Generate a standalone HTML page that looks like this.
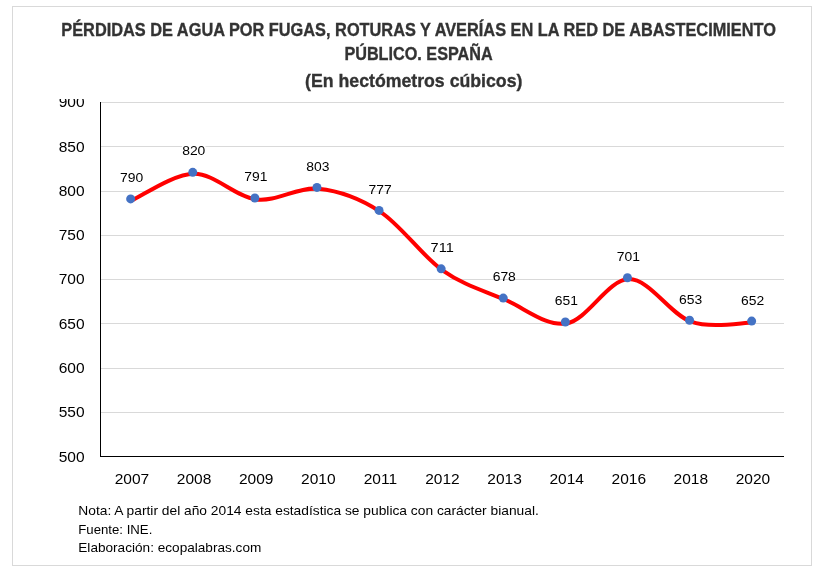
<!DOCTYPE html>
<html><head><meta charset="utf-8"><style>
html,body{margin:0;padding:0;background:#fff;width:820px;height:576px;overflow:hidden}
svg{display:block;font-family:"Liberation Sans",sans-serif;will-change:transform}
</style></head><body>
<svg width="820" height="576" viewBox="0 0 820 576">
<defs><clipPath id="cl"><rect x="0" y="99" width="820" height="477"/></clipPath></defs>
<rect x="12.5" y="6.5" width="799" height="559" fill="#fff" stroke="#d9d9d9" stroke-width="1"/>
<g stroke="#d9d9d9" stroke-width="1"><line x1="101" y1="102.5" x2="784" y2="102.5"/><line x1="101" y1="146.5" x2="784" y2="146.5"/><line x1="101" y1="191.5" x2="784" y2="191.5"/><line x1="101" y1="235.5" x2="784" y2="235.5"/><line x1="101" y1="279.5" x2="784" y2="279.5"/><line x1="101" y1="323.5" x2="784" y2="323.5"/><line x1="101" y1="368.5" x2="784" y2="368.5"/><line x1="101" y1="412.5" x2="784" y2="412.5"/></g>
<g stroke="#000" stroke-width="1"><line x1="100.5" y1="102" x2="100.5" y2="457"/><line x1="100" y1="456.5" x2="784" y2="456.5"/></g>
<g font-weight="bold" fill="#333" font-size="18.7" stroke="#333" stroke-width="0.35">
<text x="61.3" y="35.85" textLength="714.6" lengthAdjust="spacingAndGlyphs">PÉRDIDAS DE AGUA POR FUGAS, ROTURAS Y AVERÍAS EN LA RED DE ABASTECIMIENTO</text>
<text x="344.4" y="59.8" textLength="148.3" lengthAdjust="spacingAndGlyphs">PÚBLICO. ESPAÑA</text>
<text x="305.1" y="86.7" textLength="217.3" lengthAdjust="spacingAndGlyphs">(En hectómetros cúbicos)</text>
</g>
<g fill="#000" font-size="15.5" text-anchor="end" clip-path="url(#cl)"><text x="84.6" y="461.90">500</text><text x="84.6" y="416.90">550</text><text x="84.6" y="372.90">600</text><text x="84.6" y="328.90">650</text><text x="84.6" y="283.90">700</text><text x="84.6" y="239.90">750</text><text x="84.6" y="195.90">800</text><text x="84.6" y="151.90">850</text><text x="84.6" y="106.90">900</text></g>
<g fill="#000" font-size="15.5" text-anchor="middle" letter-spacing="0"><text x="131.96" y="483.9">2007</text><text x="194.06" y="483.9">2008</text><text x="256.16" y="483.9">2009</text><text x="318.26" y="483.9">2010</text><text x="380.36" y="483.9">2011</text><text x="442.46" y="483.9">2012</text><text x="504.56" y="483.9">2013</text><text x="566.66" y="483.9">2014</text><text x="628.76" y="483.9">2016</text><text x="690.86" y="483.9">2018</text><text x="752.96" y="483.9">2020</text></g>
<path d="M132.00,200.30 C142.35,195.87 173.40,173.87 194.10,173.73 C214.80,173.58 235.50,196.90 256.20,199.41 C276.90,201.92 297.60,186.72 318.30,188.78 C339.00,190.85 359.70,198.23 380.40,211.81 C401.10,225.39 421.80,255.65 442.50,270.27 C463.20,284.88 483.90,290.64 504.60,299.50 C525.30,308.35 546.00,326.81 566.70,323.41 C587.40,320.01 608.10,279.42 628.80,279.12 C649.50,278.83 670.20,314.40 690.90,321.64 C711.60,328.87 742.65,322.38 753.00,322.52" fill="none" stroke="#ff0000" stroke-width="4" stroke-linecap="round" stroke-linejoin="round"/>
<g fill="#4472c4"><circle cx="130.66" cy="198.90" r="4.5"/><circle cx="192.76" cy="172.33" r="4.5"/><circle cx="254.86" cy="198.01" r="4.5"/><circle cx="316.96" cy="187.38" r="4.5"/><circle cx="379.06" cy="210.41" r="4.5"/><circle cx="441.16" cy="268.87" r="4.5"/><circle cx="503.26" cy="298.10" r="4.5"/><circle cx="565.36" cy="322.01" r="4.5"/><circle cx="627.46" cy="277.72" r="4.5"/><circle cx="689.56" cy="320.24" r="4.5"/><circle cx="751.66" cy="321.12" r="4.5"/></g>
<g fill="#fff"><rect x="182" y="146" width="23.5" height="1"/></g>
<g fill="#000" font-size="12.4" text-anchor="middle"><text x="131.66" y="181.90" textLength="23.2" lengthAdjust="spacingAndGlyphs">790</text><text x="193.76" y="154.90" textLength="23.2" lengthAdjust="spacingAndGlyphs">820</text><text x="255.86" y="180.90" textLength="23.2" lengthAdjust="spacingAndGlyphs">791</text><text x="317.96" y="170.90" textLength="23.2" lengthAdjust="spacingAndGlyphs">803</text><text x="380.06" y="193.90" textLength="23.2" lengthAdjust="spacingAndGlyphs">777</text><text x="442.16" y="251.90" textLength="23.2" lengthAdjust="spacingAndGlyphs">711</text><text x="504.26" y="280.90" textLength="23.2" lengthAdjust="spacingAndGlyphs">678</text><text x="566.36" y="304.90" textLength="23.2" lengthAdjust="spacingAndGlyphs">651</text><text x="628.46" y="260.90" textLength="23.2" lengthAdjust="spacingAndGlyphs">701</text><text x="690.56" y="303.90" textLength="23.2" lengthAdjust="spacingAndGlyphs">653</text><text x="752.66" y="304.90" textLength="23.2" lengthAdjust="spacingAndGlyphs">652</text></g>
<g fill="#000" font-size="12.6">
<text x="78.3" y="514.9" textLength="460.5" lengthAdjust="spacingAndGlyphs">Nota: A partir del año 2014 esta estadística se publica con carácter bianual.</text>
<text x="78.3" y="533.9" textLength="74" lengthAdjust="spacingAndGlyphs">Fuente: INE.</text>
<text x="78.3" y="551.7" textLength="183" lengthAdjust="spacingAndGlyphs">Elaboración: ecopalabras.com</text>
</g>
</svg>
</body></html>
